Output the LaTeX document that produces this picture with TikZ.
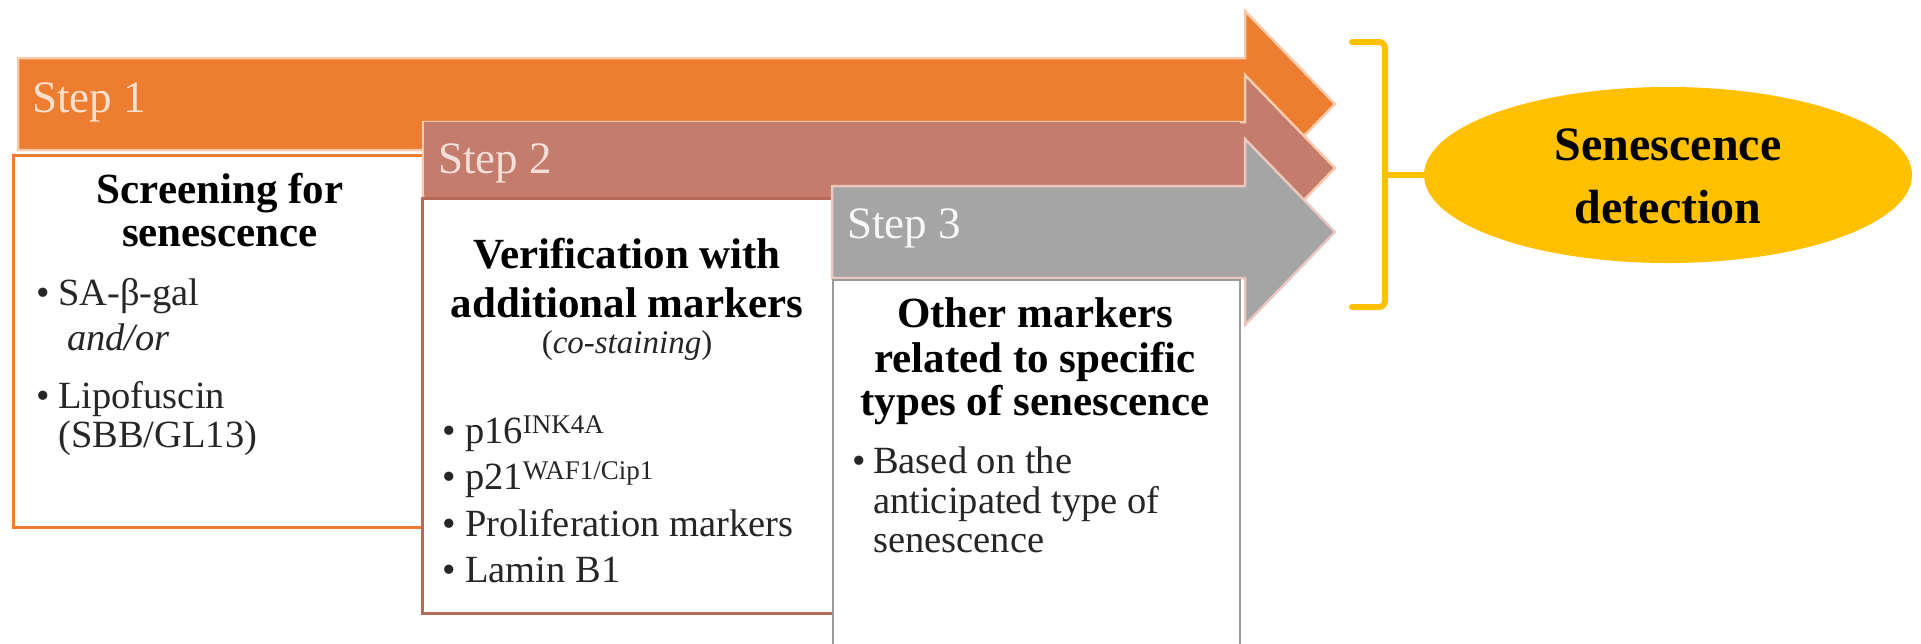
\documentclass[tikz,border=0pt]{standalone}
\usepackage{fontspec}
\setmainfont{Liberation Serif}
\usetikzlibrary{shapes.geometric}
\definecolor{orA}{HTML}{ED7D31}
\definecolor{orL}{HTML}{F8CBAD}
\definecolor{roB}{HTML}{C47C6C}
\definecolor{roL}{HTML}{EBC8BF}
\definecolor{roD}{HTML}{B56A5A}
\definecolor{grC}{HTML}{A5A5A5}
\definecolor{grL}{HTML}{D9D9D9}
\definecolor{grD}{HTML}{9A9A9A}
\definecolor{gold}{HTML}{FFC000}
\definecolor{txt}{HTML}{262626}
\tikzset{
  band/.style={line width=2.5pt, line join=miter},
  steplabel/.style={anchor=base west, inner sep=0pt, font=\fontsize{45}{45}\selectfont},
  ttl/.style={anchor=base, inner sep=0pt, font=\fontsize{43}{43}\selectfont\bfseries, text=black},
  body/.style={anchor=base west, inner sep=0pt, font=\fontsize{38.5}{38.5}\selectfont, text=txt},
  bul/.style={anchor=base west, inner sep=0pt, font=\fontsize{38.5}{38.5}\selectfont, text=txt},
  boxframe/.style={fill=white, line width=3pt},
  goldline/.style={draw=gold, line width=6pt, line cap=round, line join=round}
}
\begin{document}
\begin{tikzpicture}[x=1pt,y=-1pt]
\useasboundingbox (0,0) rectangle (1921,643);
\clip (0,0) rectangle (1921,643);
% ---------- Step 1 ----------
\filldraw[band, fill=orA, draw=orL] (18,58) -- (1245,58) -- (1245,11) -- (1335,104) -- (1245,197) -- (1245,150) -- (18,150) -- cycle;
\draw[boxframe, draw=orA] (13,155) rectangle (600,527);
\node[steplabel, text=orL!60!white] (st1) at (32,112) {Step 1};
\node[ttl] (s1a) at (220,203) {Screening for};
\node[ttl] (s1b) at (220,246) {senescence};
\node[bul] (s1u1) at (36,305) {\textbullet};
\node[body] (s1c) at (58,305) {SA-β-gal};
\node[body] (s1d) at (67,350) {\itshape and/or};
\node[bul] (s1u2) at (36,408) {\textbullet};
\node[body] (s1e) at (58,408) {Lipofuscin};
\node[body] (s1f) at (58,447) {(SBB/GL13)};
% ---------- Step 2 ----------
\filldraw[band, fill=roB, draw=orL] (423,122) -- (1245,122) -- (1245,75) -- (1335,168) -- (1245,261) -- (1245,214) -- (423,214) -- cycle;
\draw[boxframe, draw=roD] (422,198) rectangle (1000,613);
\fill[roB] (424,122) rectangle (1240,195);
\node[steplabel, text=roL!60!white] (st2) at (438,173) {Step 2};
\node[ttl] (s2a) at (627,268) {Verification with};
\node[ttl] (s2b) at (627,317) {additional markers};
\node[anchor=base, inner sep=0pt, font=\fontsize{33}{33}\selectfont, text=txt] (s2c) at (627,353) {(\textit{co-staining})};
\node[bul] (s2u1) at (442,443) {\textbullet};
\node[body] (s2d) at (465,443) {p16\textsuperscript{INK4A}};
\node[bul] (s2u2) at (442,489) {\textbullet};
\node[body] (s2e) at (465,489) {p21\textsuperscript{WAF1/Cip1}};
\node[bul] (s2u3) at (442,536) {\textbullet};
\node[body] (s2f) at (465,536) {Proliferation markers};
\node[bul] (s2u4) at (442,582) {\textbullet};
\node[body] (s2g) at (465,582) {Lamin B1};
% ---------- Step 3 ----------
\filldraw[band, fill=grC, draw=roL] (832,186) -- (1245,186) -- (1245,139) -- (1335,232) -- (1245,325) -- (1245,278) -- (832,278) -- cycle;
\draw[fill=white, line width=2pt, draw=grD] (833,280) rectangle (1240,670);
\node[steplabel, text=white!92!grC] (st3) at (847,238) {Step 3};
\node[ttl] (s3a) at (1035,327) {Other markers};
\node[ttl] (s3b) at (1035,372) {related to specific};
\node[ttl] (s3c) at (1035,415) {types of senescence};
\node[bul] (s3u1) at (852,473) {\textbullet};
\node[body] (s3d) at (873,473) {Based on the};
\node[body] (s3e) at (873,513) {anticipated type of};
\node[body] (s3f) at (873,552) {senescence};
% ---------- Result ----------
\node[ellipse, fill=gold, minimum width=488pt, minimum height=176pt, inner sep=0pt] (det) at (1668,175) {};
\node[anchor=base, inner sep=0pt, font=\fontsize{48}{48}\selectfont\bfseries, text=black] (d1) at (1668,160) {Senescence};
\node[anchor=base, inner sep=0pt, font=\fontsize{48}{48}\selectfont\bfseries, text=black] (d2) at (1668,223) {detection};
\coordinate (brT) at (1352,42);
\coordinate (brB) at (1352,307);
\coordinate (brM) at (1385,175);
\draw[goldline, rounded corners=6pt] (brT) -- (1385,42) -- (1385,307) -- (brB);
\draw[goldline] (brM) -- (det.west);
\end{tikzpicture}
\end{document}
